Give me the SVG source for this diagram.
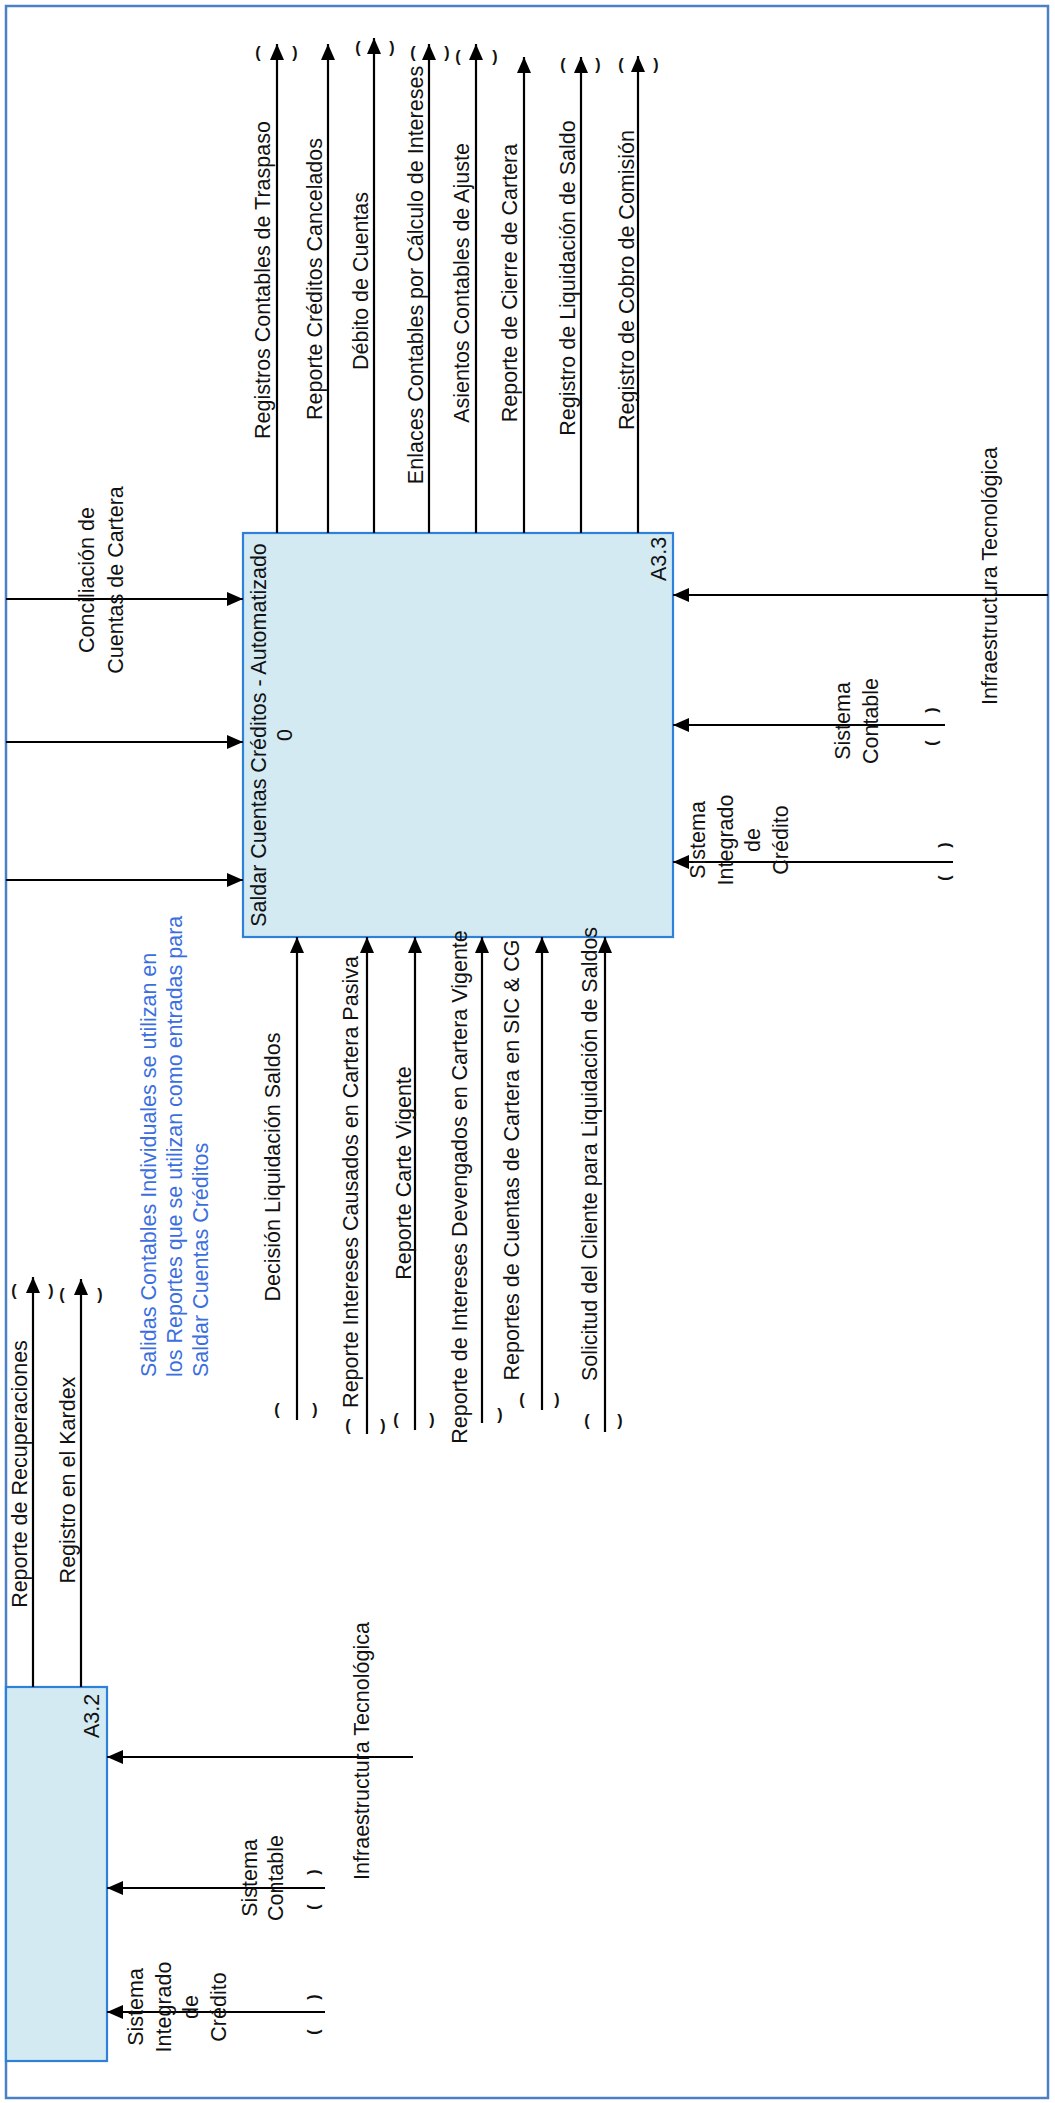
<svg xmlns="http://www.w3.org/2000/svg" width="1055" height="2103" viewBox="0 0 1055 2103">
  <style>
    .frame { fill: none; stroke: #4b80c4; stroke-width: 2.5; }
    .box { fill: #d3eaf3; stroke: #2f80d8; stroke-width: 2.2; }
    .arc { fill: none; stroke: #000; stroke-width: 2.2; marker-end: url(#ah); }
    text { font-family: "Liberation Sans", Arial, sans-serif; fill: #111; }
    .lbl { font-size: 21.5px; text-anchor: middle; }
    .lbs { font-size: 21.5px; text-anchor: start; }
    .note { font-size: 21.5px; text-anchor: start; fill: #3b6fe0; }
    .tp { font-size: 16px; font-weight: bold; text-anchor: middle; }
  </style>
  <defs>
    <marker id="ah" viewBox="0 0 16 14" refX="16" refY="7" markerWidth="16" markerHeight="14" markerUnits="userSpaceOnUse" orient="auto">
      <path d="M0,0 L16,7 L0,14 z" fill="#000"/>
    </marker>
  </defs>

  <rect class="frame" x="6" y="6" width="1042" height="2092"/>

  <!-- activity A3.3 -->
  <g id="node-a33">
    <rect class="box" x="243" y="533" width="430" height="404"/>
    <text class="lbl" transform="translate(266,735) rotate(-90)">Saldar Cuentas Créditos - Automatizado<tspan x="0" dy="26">0</tspan></text>
    <text class="lbs" transform="translate(666,581) rotate(-90)">A3.3</text>
  </g>

  <!-- activity A3.2 (partially shown) -->
  <g id="node-a32">
    <rect class="box" x="6" y="1687" width="101" height="374"/>
    <text class="lbs" transform="translate(99,1738) rotate(-90)">A3.2</text>
  </g>

  <g id="connectors">
    <!-- outputs of A3.3 -->
    <g id="out-a33">
      <path class="arc" d="M277,533 V44"/>
      <path class="arc" d="M328,533 V44"/>
      <path class="arc" d="M374,533 V38"/>
      <path class="arc" d="M429,533 V44"/>
      <path class="arc" d="M476,533 V44"/>
      <path class="arc" d="M524,533 V57"/>
      <path class="arc" d="M581,533 V57"/>
      <path class="arc" d="M638,533 V56"/>
      <text class="lbl" transform="translate(270,280) rotate(-90)">Registros Contables de Traspaso</text>
      <text class="lbl" transform="translate(322,279) rotate(-90)">Reporte Créditos Cancelados</text>
      <text class="lbl" transform="translate(368,281) rotate(-90)">Débito de Cuentas</text>
      <text class="lbl" transform="translate(423,275) rotate(-90)">Enlaces Contables por Cálculo de Intereses</text>
      <text class="lbl" transform="translate(469,283) rotate(-90)">Asientos Contables de Ajuste</text>
      <text class="lbl" transform="translate(517,283) rotate(-90)">Reporte de Cierre de Cartera</text>
      <text class="lbl" transform="translate(575,278) rotate(-90)">Registro de Liquidación de Saldo</text>
      <text class="lbl" transform="translate(634,280) rotate(-90)">Registro de Cobro de Comisión</text>
      <text class="tp" x="258" y="58">(</text><text class="tp" x="295" y="58">)</text>
      <text class="tp" x="358" y="53">(</text><text class="tp" x="392" y="53">)</text>
      <text class="tp" x="413" y="58">(</text><text class="tp" x="447" y="58">)</text>
      <text class="tp" x="458" y="62">(</text><text class="tp" x="495" y="62">)</text>
      <text class="tp" x="563" y="70">(</text><text class="tp" x="598" y="70">)</text>
      <text class="tp" x="621" y="70">(</text><text class="tp" x="656" y="70">)</text>
    </g>

    <!-- inputs of A3.3 from the left -->
    <g id="in-left-a33">
      <path class="arc" d="M6,599 H243"/>
      <path class="arc" d="M6,742 H243"/>
      <path class="arc" d="M6,880 H243"/>
      <text class="lbl" transform="translate(94,580) rotate(-90)">Conciliación de<tspan x="0" dy="29">Cuentas de Cartera</tspan></text>
    </g>

    <!-- inputs of A3.3 from below -->
    <g id="in-bottom-a33">
      <path class="arc" d="M297,1420 V937"/>
      <path class="arc" d="M367,1434 V937"/>
      <path class="arc" d="M415,1430 V937"/>
      <path class="arc" d="M482,1423 V937"/>
      <path class="arc" d="M542,1410 V937"/>
      <path class="arc" d="M605,1432 V937"/>
      <text class="lbl" transform="translate(280,1167) rotate(-90)">Decisión Liquidación Saldos</text>
      <text class="lbl" transform="translate(358,1182) rotate(-90)">Reporte Intereses Causados en Cartera Pasiva</text>
      <text class="lbl" transform="translate(411,1173) rotate(-90)">Reporte Carte Vigente</text>
      <text class="lbl" transform="translate(467,1187) rotate(-90)">Reporte de Intereses Devengados en Cartera Vigente</text>
      <text class="lbl" transform="translate(519,1160) rotate(-90)">Reportes de Cuentas de Cartera en SIC &amp; CG</text>
      <text class="lbl" transform="translate(597,1154) rotate(-90)">Solicitud del Cliente para Liquidación de Saldos</text>
      <text class="tp" x="277" y="1415">(</text><text class="tp" x="315" y="1415">)</text>
      <text class="tp" x="348" y="1431">(</text><text class="tp" x="383" y="1431">)</text>
      <text class="tp" x="396" y="1425">(</text><text class="tp" x="432" y="1425">)</text>
      <text class="tp" x="500" y="1420">)</text>
      <text class="tp" x="522" y="1405">(</text><text class="tp" x="557" y="1405">)</text>
      <text class="tp" x="587" y="1426">(</text><text class="tp" x="620" y="1426">)</text>
    </g>

    <!-- mechanisms of A3.3 from the right -->
    <g id="mech-a33">
      <path class="arc" d="M1048,595 H673"/>
      <path class="arc" d="M945,725 H673"/>
      <path class="arc" d="M953,862 H673"/>
      <text class="lbl" transform="translate(997,576) rotate(-90)">Infraestructura Tecnológica</text>
      <text class="lbl" transform="translate(850,721) rotate(-90)">Sistema<tspan x="0" dy="28">Contable</tspan></text>
      <text class="lbl" transform="translate(705,840) rotate(-90)">Sistema<tspan x="0" dy="27.5">Integrado</tspan><tspan x="0" dy="27.5">de</tspan><tspan x="0" dy="27.5">Crédito</tspan></text>
      <text class="tp" transform="translate(937,743) rotate(-90)">(</text>
      <text class="tp" transform="translate(937,710) rotate(-90)">)</text>
      <text class="tp" transform="translate(950,878) rotate(-90)">(</text>
      <text class="tp" transform="translate(950,845) rotate(-90)">)</text>
    </g>

    <!-- outputs of A3.2 -->
    <g id="out-a32">
      <path class="arc" d="M33,1687 V1277"/>
      <path class="arc" d="M81,1687 V1279"/>
      <text class="lbl" transform="translate(27,1474) rotate(-90)">Reporte de Recuperaciones</text>
      <text class="lbl" transform="translate(75,1480) rotate(-90)">Registro en el Kardex</text>
      <text class="tp" x="14" y="1296">(</text><text class="tp" x="51" y="1296">)</text>
      <text class="tp" x="62" y="1300">(</text><text class="tp" x="100" y="1300">)</text>
    </g>

    <!-- mechanisms of A3.2 -->
    <g id="mech-a32">
      <path class="arc" d="M413,1757 H107"/>
      <path class="arc" d="M325,1888 H107"/>
      <path class="arc" d="M325,2012 H107"/>
      <text class="lbl" transform="translate(369,1751) rotate(-90)">Infraestructura Tecnológica</text>
      <text class="lbl" transform="translate(257,1878) rotate(-90)">Sistema<tspan x="0" dy="26">Contable</tspan></text>
      <text class="lbl" transform="translate(143,2007) rotate(-90)">Sistema<tspan x="0" dy="27.5">Integrado</tspan><tspan x="0" dy="27.5">de</tspan><tspan x="0" dy="27.5">Crédito</tspan></text>
      <text class="tp" transform="translate(319,1907) rotate(-90)">(</text>
      <text class="tp" transform="translate(319,1872) rotate(-90)">)</text>
      <text class="tp" transform="translate(319,2032) rotate(-90)">(</text>
      <text class="tp" transform="translate(319,1997) rotate(-90)">)</text>
    </g>
  </g>

  <!-- explanatory note -->
  <text class="note" transform="translate(156,1377) rotate(-90)">Salidas Contables Individuales se utilizan en<tspan x="0" dy="26">los Reportes que se utilizan como entradas para</tspan><tspan x="0" dy="26">Saldar Cuentas Créditos</tspan></text>
</svg>
